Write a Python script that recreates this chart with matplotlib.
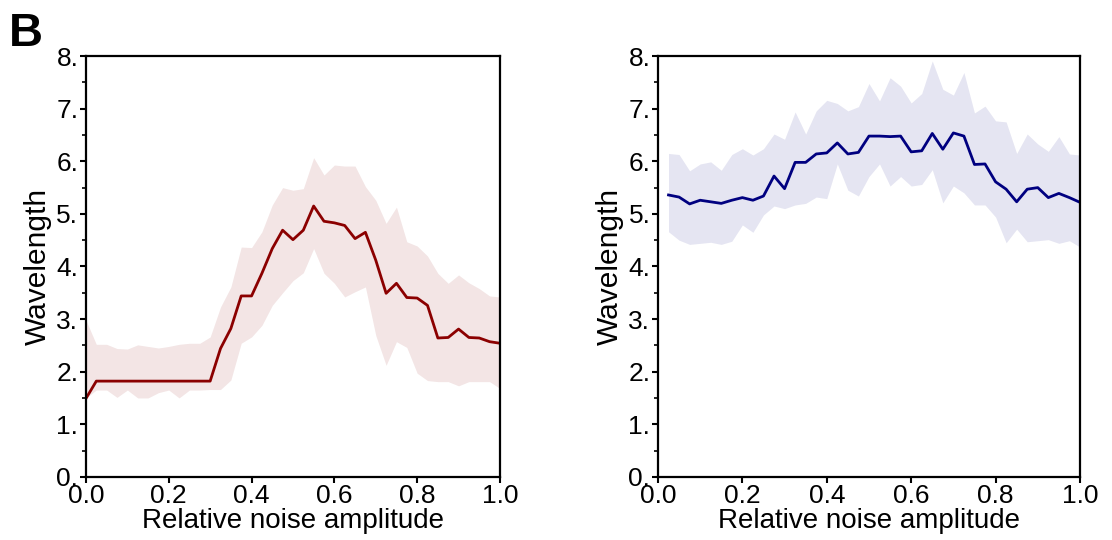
import numpy as np
import matplotlib
matplotlib.use('Agg')
import matplotlib.pyplot as plt
from matplotlib.ticker import MultipleLocator, FixedLocator, FixedFormatter

plt.rcParams['font.family'] = ['Liberation Sans', 'DejaVu Sans']

# noise amplitudes (step 0.025)
noise_left = np.round(np.arange(0, 41) * 0.025, 3)
noise_right = noise_left[1:]

# left panel: mean wavelength and band
mean_left = [1.49, 1.82, 1.82, 1.82, 1.82, 1.82, 1.82, 1.82, 1.82, 1.82, 1.82, 1.82, 1.82,
             2.44, 2.82, 3.44, 3.44, 3.87, 4.34, 4.69, 4.51, 4.69, 5.15, 4.86, 4.83, 4.78,
             4.53, 4.65, 4.12, 3.49, 3.68, 3.41, 3.40, 3.26, 2.64, 2.65, 2.81, 2.65, 2.64,
             2.57, 2.54]
upper_left = [2.98, 2.52, 2.52, 2.44, 2.43, 2.51, 2.48, 2.45, 2.48, 2.52, 2.54, 2.54, 2.66,
              3.23, 3.61, 4.37, 4.36, 4.66, 5.17, 5.50, 5.45, 5.48, 6.07, 5.74, 5.93, 5.91,
              5.91, 5.52, 5.26, 4.82, 5.13, 4.47, 4.39, 4.20, 3.87, 3.68, 3.84, 3.69, 3.58,
              3.44, 3.42]
lower_left = [1.50, 1.65, 1.65, 1.51, 1.65, 1.50, 1.50, 1.60, 1.65, 1.50, 1.65, 1.65, 1.66,
              1.66, 1.84, 2.54, 2.66, 2.88, 3.26, 3.50, 3.73, 3.88, 4.34, 3.87, 3.68, 3.42,
              3.52, 3.61, 2.69, 2.12, 2.57, 2.46, 1.97, 1.83, 1.81, 1.81, 1.73, 1.81, 1.81,
              1.81, 1.68]

# right panel
mean_right = [5.36, 5.32, 5.19, 5.26, 5.23, 5.20, 5.26, 5.31, 5.26, 5.34, 5.72, 5.48, 5.98,
              5.98, 6.14, 6.16, 6.35, 6.14, 6.17, 6.48, 6.48, 6.47, 6.48, 6.18, 6.20, 6.53,
              6.23, 6.54, 6.48, 5.94, 5.95, 5.61, 5.47, 5.23, 5.47, 5.50, 5.31, 5.39, 5.31,
              5.22]
upper_right = [6.15, 6.13, 5.82, 5.95, 5.99, 5.83, 6.13, 6.24, 6.12, 6.24, 6.52, 6.42, 6.94,
               6.52, 6.96, 7.16, 7.10, 6.96, 7.04, 7.48, 7.15, 7.59, 7.43, 7.11, 7.29, 7.91,
               7.37, 7.26, 7.69, 6.92, 7.05, 6.77, 6.75, 6.15, 6.52, 6.33, 6.19, 6.47, 6.14,
               6.12]
lower_right = [4.66, 4.50, 4.42, 4.44, 4.46, 4.42, 4.48, 4.79, 4.65, 4.98, 5.15, 5.10, 5.17,
               5.20, 5.32, 5.29, 5.95, 5.45, 5.34, 5.71, 5.95, 5.53, 5.71, 5.53, 5.56, 5.84,
               5.21, 5.53, 5.40, 5.17, 5.17, 4.94, 4.45, 4.71, 4.47, 4.49, 4.51, 4.44, 4.49,
               4.37]

y_ticks = [0, 1, 2, 3, 4, 5, 6, 7, 8]
y_labels = ['0.', '1.', '2.', '3.', '4.', '5.', '6.', '7.', '8.']
x_ticks = [0.0, 0.2, 0.4, 0.6, 0.8, 1.0]
x_labels = ['0.0', '0.2', '0.4', '0.6', '0.8', '1.0']

fig = plt.figure(figsize=(11.12, 5.4), dpi=100)
ax1 = fig.add_axes([0.0773, 0.117, 0.3723, 0.779])
ax2 = fig.add_axes([0.5917, 0.117, 0.3795, 0.779])

panels = [
    (ax1, noise_left, mean_left, upper_left, lower_left, '#8b0000'),
    (ax2, noise_right, mean_right, upper_right, lower_right, '#000080'),
]

for ax, x, m, up, lo, col in panels:
    ax.fill_between(x, lo, up, color=col, alpha=0.1, linewidth=0)
    ax.plot(x, m, color=col, linewidth=2.0)
    ax.set_xlim(0, 1)
    ax.set_ylim(0, 8)
    ax.xaxis.set_major_locator(FixedLocator(x_ticks))
    ax.xaxis.set_major_formatter(FixedFormatter(x_labels))
    ax.yaxis.set_major_locator(FixedLocator(y_ticks))
    ax.yaxis.set_major_formatter(FixedFormatter(y_labels))
    ax.yaxis.set_minor_locator(MultipleLocator(0.5))
    ax.tick_params(which='major', direction='out', length=4.5, width=1.5,
                   labelsize=19, pad=1, top=False, right=False)
    ax.tick_params(which='minor', direction='out', length=3, width=1.2,
                   top=False, right=False)
    for s in ax.spines.values():
        s.set_linewidth(1.6)
    ax.set_xlabel('Relative noise amplitude', fontsize=20, labelpad=0)
    ax.set_ylabel('Wavelength', fontsize=21.5, labelpad=3)

fig.text(0.008, 0.915, 'B', fontsize=34, fontweight='bold')

fig.savefig('out.png', dpi=100)
